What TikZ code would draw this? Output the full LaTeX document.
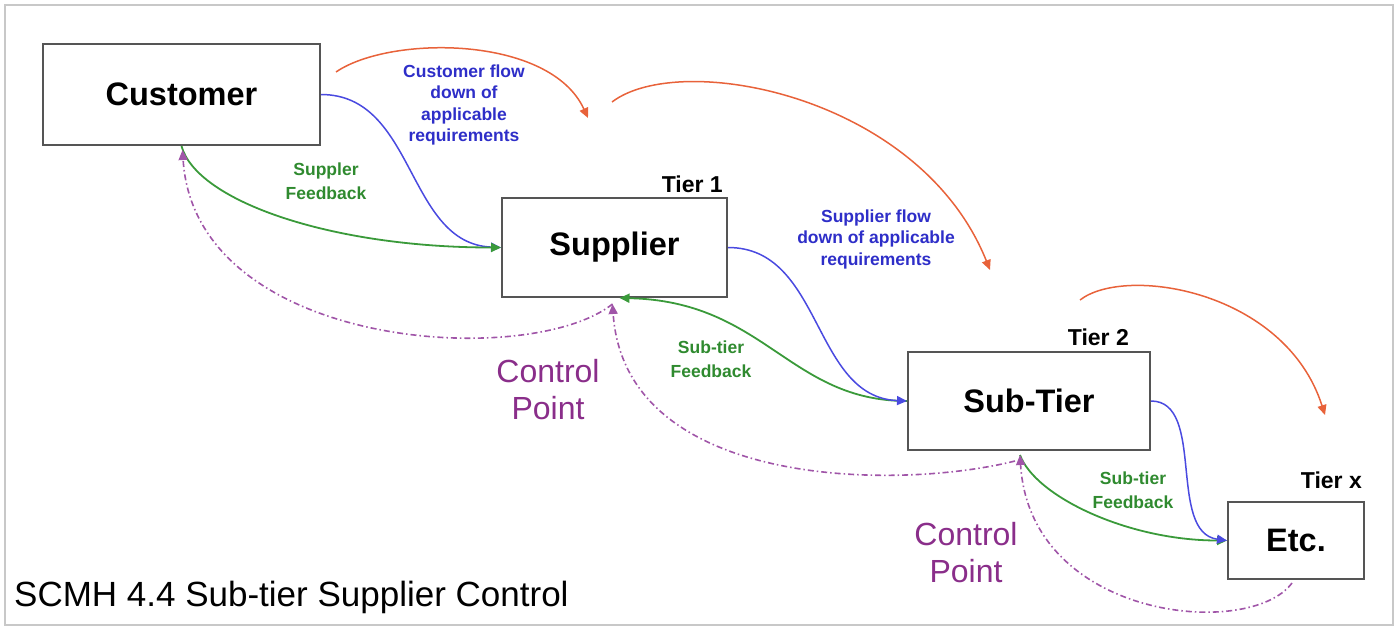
\documentclass[tikz,border=0pt]{standalone}
\usepackage{fontspec}
\setmainfont{Liberation Sans}
\usetikzlibrary{arrows.meta,calc}
\definecolor{boxgray}{HTML}{555555}
\definecolor{framegray}{HTML}{C8C8C8}
\definecolor{orng}{HTML}{E8623A}
\definecolor{bline}{HTML}{4A4AE0}
\definecolor{btext}{HTML}{2E2EC8}
\definecolor{gline}{HTML}{3A9A3A}
\definecolor{gtext}{HTML}{2F8A2F}
\definecolor{pline}{HTML}{A055A8}
\definecolor{ptext}{HTML}{8A2E8A}
\begin{document}
\begin{tikzpicture}[x=1pt,y=-1pt,
  box/.style={draw=boxgray,line width=2pt,fill=white,inner sep=0pt,
    font=\bfseries\fontsize{32.5}{36}\selectfont},
  tier/.style={inner sep=0pt,anchor=east,font=\bfseries\fontsize{23}{26}\selectfont},
  blabel/.style={inner sep=0pt,align=center,text=btext,font=\bfseries\fontsize{17.5}{21.5}\selectfont},
  glabel/.style={inner sep=0pt,align=center,text=gtext,font=\bfseries\fontsize{17.5}{24}\selectfont},
  plabel/.style={inner sep=0pt,align=center,text=ptext,font=\fontsize{32}{37}\selectfont},
  tip/.style={-{Triangle[length=10pt,width=9pt]}},
  orarc/.style={tip,draw=orng,line width=1.5pt},
  bflow/.style={tip,draw=bline,line width=1.5pt},
  gfeed/.style={tip,draw=gline,line width=1.8pt},
  pctrl/.style={-{Triangle[length=10pt,width=9pt]},draw=pline,line width=1.6pt,
    dash pattern=on 6pt off 3pt on 1.5pt off 3pt},
]
\useasboundingbox (0,0) rectangle (1400,630);
\draw[framegray,line width=1.5pt] (5,5) rectangle (1393,625);

% boxes
\node[box,minimum width=277pt,minimum height=101pt] (cust) at (181.5,94.5) {Customer};
\node[box,minimum width=225pt,minimum height=99pt] (sup) at (614.5,247.5) {Supplier};
\node[box,minimum width=242pt,minimum height=98pt] (sub) at (1029,401) {Sub-Tier};
\node[box,minimum width=136pt,minimum height=77pt] (etc) at (1296,540.5) {Etc.};

% tier labels
\node[tier] (t1) at (723,184) {Tier 1};
\node[tier] (t2) at (1129,337) {Tier 2};
\node[tier] (tx) at (1362,480) {Tier x};

% orange arcs
\coordinate (o1a) at (336,72);
\coordinate (o1b) at (588,118);
\coordinate (o2a) at (612,102);
\coordinate (o2b) at (990,270);
\coordinate (o3a) at (1080,300);
\coordinate (o3b) at (1325,415);
\draw[orarc] (o1a) .. controls (390,35) and (550,35) .. (o1b);
\draw[orarc] (o2a) .. controls (680,50) and (920,95) .. (o2b);
\draw[orarc] (o3a) .. controls (1125,265) and (1285,290) .. (o3b);

% level 1
\draw[bflow] (cust.east) .. controls ($(cust.east)+(95,0)$) and ($(sup.west)+(-95,-4)$) .. (sup.west);
\draw[gfeed] (cust.south) .. controls ($(cust.south)+(15,55)$) and ($(sup.west)+(-170,0)$) .. (sup.west);

% level 2
\draw[gfeed] (sub.west) .. controls ($(sub.west)+(-118,0)$) and ($(sup.south)+(150,3)$) .. ($(sup.south)+(5,0)$);
\draw[bflow] (sup.east) .. controls ($(sup.east)+(95,0)$) and ($(sub.west)+(-95,-4)$) .. (sub.west);

% level 3
\draw[gfeed] ($(sub.south)+(-9,4)$) .. controls ($(sub.south)+(6,45)$) and ($(etc.west)+(-100,0)$) .. (etc.west);
\draw[bflow] (sub.east) .. controls ($(sub.east)+(55,0)$) and ($(etc.west)+(-60,-8)$) .. (etc.west);

% control-point loops
\draw[pctrl] ($(sup.south)+(-2,6)$) .. controls (530,370) and (195,350) .. ($(cust.south)+(1,4)$);
\draw[pctrl] ($(sub.south)+(-14,10)$) .. controls (900,490) and (625,490) .. ($(sup.south)+(-2,6)$);
\draw[pctrl] ($(etc.south)+(-4,3)$) .. controls (1250,640) and (1030,620) .. ($(sub.south)+(-9,4)$);

% labels
\node[blabel] (l1) at (464,105) {Customer flow\\down of\\applicable\\requirements};
\node[glabel] (l2) at (326,181) {Suppler\\Feedback};
\node[blabel] (l3) at (876,239) {Supplier flow\\down of applicable\\requirements};
\node[glabel] (l4) at (711,359) {Sub-tier\\Feedback};
\node[glabel] (l5) at (1133,490) {Sub-tier\\Feedback};
\node[plabel] (c1) at (548,390) {Control\\Point};
\node[plabel] (c2) at (966,553) {Control\\Point};
\node[inner sep=0pt,anchor=west,font=\fontsize{35}{40}\selectfont] (title) at (14,597) {SCMH 4.4 Sub-tier Supplier Control};
\end{tikzpicture}
\end{document}
